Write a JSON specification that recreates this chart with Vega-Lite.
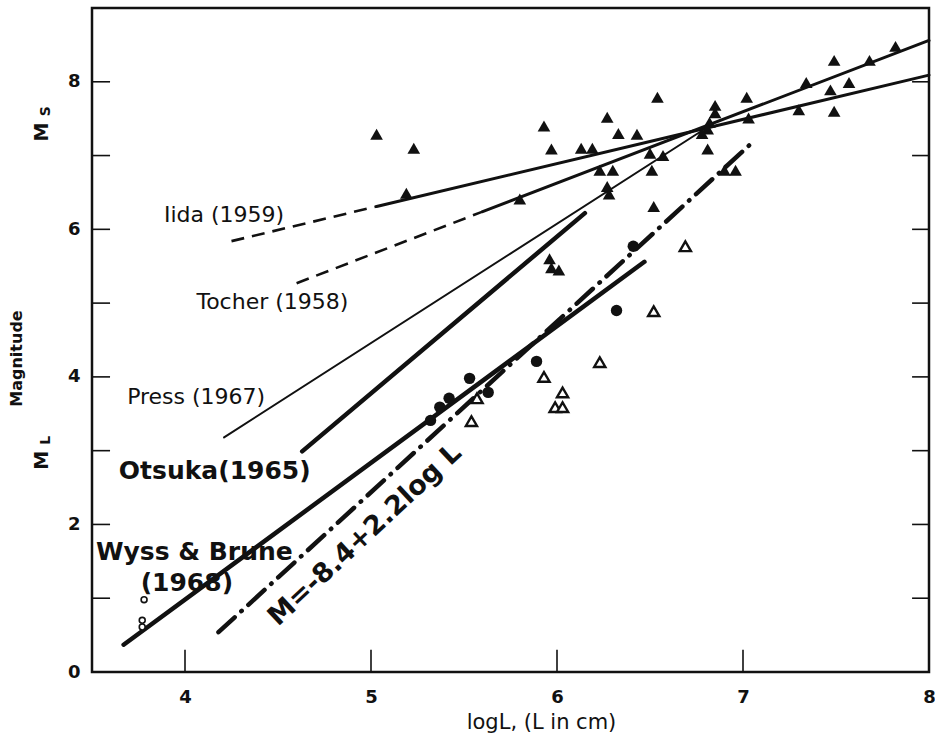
{
  "$schema": "https://vega.github.io/schema/vega-lite/v6.json",
  "width": 837,
  "height": 664,
  "autosize": {"type": "none"},
  "padding": {"left": 92, "top": 8, "right": 6, "bottom": 66},
  "background": "white",
  "config": {
    "view": {"stroke": "#111", "strokeWidth": 2.5},
    "font": "DejaVu Sans",
    "axis": {"grid": false, "domain": false, "tickColor": "#111", "labelColor": "#111", "titleColor": "#111", "labelFont": "DejaVu Sans", "titleFont": "DejaVu Sans"}
  },
  "datasets": {
    "frame_marks": [
      {"side": "bottom", "v": 4}, {"side": "bottom", "v": 5}, {"side": "bottom", "v": 6}, {"side": "bottom", "v": 7},
      {"side": "left", "v": 1}, {"side": "left", "v": 2}, {"side": "left", "v": 3}, {"side": "left", "v": 4},
      {"side": "left", "v": 5}, {"side": "left", "v": 6}, {"side": "left", "v": 7}, {"side": "left", "v": 8},
      {"side": "right", "v": 1}, {"side": "right", "v": 2}, {"side": "right", "v": 3}, {"side": "right", "v": 4},
      {"side": "right", "v": 5}, {"side": "right", "v": 6}, {"side": "right", "v": 7}, {"side": "right", "v": 8}
    ],
    "curves": [
      {"series": "iida_ext", "x": 4.25, "y": 5.84},
      {"series": "iida_ext", "x": 5.03, "y": 6.31},
      {"series": "iida", "x": 5.03, "y": 6.31},
      {"series": "iida", "x": 8.0, "y": 8.09},
      {"series": "tocher_ext", "x": 4.60, "y": 5.27},
      {"series": "tocher_ext", "x": 5.60, "y": 6.24},
      {"series": "tocher", "x": 5.60, "y": 6.24},
      {"series": "tocher", "x": 8.0, "y": 8.56},
      {"series": "press", "x": 4.21, "y": 3.18},
      {"series": "press", "x": 6.80, "y": 7.37},
      {"series": "otsuka", "x": 4.63, "y": 2.99},
      {"series": "otsuka", "x": 6.15, "y": 6.22},
      {"series": "wyss_brune", "x": 3.67, "y": 0.37},
      {"series": "wyss_brune", "x": 6.47, "y": 5.56},
      {"series": "empirical", "x": 4.18, "y": 0.54},
      {"series": "empirical", "x": 7.06, "y": 7.20}
    ],
    "points": [
      {"group": "Ms", "x": 5.03, "y": 7.29},
      {"group": "Ms", "x": 5.23, "y": 7.10},
      {"group": "Ms", "x": 5.19, "y": 6.49},
      {"group": "Ms", "x": 5.80, "y": 6.41},
      {"group": "Ms", "x": 5.93, "y": 7.40},
      {"group": "Ms", "x": 5.97, "y": 7.09},
      {"group": "Ms", "x": 6.13, "y": 7.10},
      {"group": "Ms", "x": 6.19, "y": 7.10},
      {"group": "Ms", "x": 6.27, "y": 7.52},
      {"group": "Ms", "x": 6.33, "y": 7.30},
      {"group": "Ms", "x": 6.43, "y": 7.29},
      {"group": "Ms", "x": 6.54, "y": 7.79},
      {"group": "Ms", "x": 6.23, "y": 6.80},
      {"group": "Ms", "x": 6.30, "y": 6.80},
      {"group": "Ms", "x": 6.50, "y": 7.03},
      {"group": "Ms", "x": 6.57, "y": 7.00},
      {"group": "Ms", "x": 6.51, "y": 6.80},
      {"group": "Ms", "x": 6.27, "y": 6.58},
      {"group": "Ms", "x": 6.28, "y": 6.48},
      {"group": "Ms", "x": 6.52, "y": 6.31},
      {"group": "Ms", "x": 6.81, "y": 7.09},
      {"group": "Ms", "x": 6.90, "y": 6.80},
      {"group": "Ms", "x": 6.96, "y": 6.80},
      {"group": "Ms", "x": 6.85, "y": 7.68},
      {"group": "Ms", "x": 6.85, "y": 7.58},
      {"group": "Ms", "x": 6.82, "y": 7.45},
      {"group": "Ms", "x": 6.81, "y": 7.36},
      {"group": "Ms", "x": 6.78, "y": 7.30},
      {"group": "Ms", "x": 7.02, "y": 7.79},
      {"group": "Ms", "x": 7.03, "y": 7.51},
      {"group": "Ms", "x": 7.30, "y": 7.62},
      {"group": "Ms", "x": 7.34, "y": 7.99},
      {"group": "Ms", "x": 7.49, "y": 8.29},
      {"group": "Ms", "x": 7.47, "y": 7.89},
      {"group": "Ms", "x": 7.57, "y": 7.99},
      {"group": "Ms", "x": 7.49, "y": 7.60},
      {"group": "Ms", "x": 7.68, "y": 8.29},
      {"group": "Ms", "x": 7.82, "y": 8.48},
      {"group": "Ms", "x": 5.96, "y": 5.60},
      {"group": "Ms", "x": 5.97, "y": 5.48},
      {"group": "Ms", "x": 6.01, "y": 5.45},
      {"group": "ML_open_triangle", "x": 6.52, "y": 4.89},
      {"group": "ML_open_triangle", "x": 6.23, "y": 4.20},
      {"group": "ML_open_triangle", "x": 5.93, "y": 4.00},
      {"group": "ML_open_triangle", "x": 6.03, "y": 3.79},
      {"group": "ML_open_triangle", "x": 5.99, "y": 3.59},
      {"group": "ML_open_triangle", "x": 6.03, "y": 3.59},
      {"group": "ML_open_triangle", "x": 5.54, "y": 3.40},
      {"group": "ML_open_triangle", "x": 5.57, "y": 3.71},
      {"group": "ML_open_triangle", "x": 6.69, "y": 5.77},
      {"group": "ML_circle", "x": 6.32, "y": 4.90},
      {"group": "ML_circle", "x": 6.41, "y": 5.77},
      {"group": "ML_circle", "x": 5.89, "y": 4.21},
      {"group": "ML_circle", "x": 5.53, "y": 3.98},
      {"group": "ML_circle", "x": 5.42, "y": 3.71},
      {"group": "ML_circle", "x": 5.37, "y": 3.59},
      {"group": "ML_circle", "x": 5.32, "y": 3.41},
      {"group": "ML_circle", "x": 5.63, "y": 3.79},
      {"group": "ML_open_circle", "x": 3.78, "y": 0.98},
      {"group": "ML_open_circle", "x": 3.77, "y": 0.70},
      {"group": "ML_open_circle", "x": 3.77, "y": 0.61}
    ],
    "labels": [
      {"kind": "plain", "text": "Iida (1959)", "x": 4.21, "y": 6.19},
      {"kind": "plain", "text": "Tocher (1958)", "x": 4.47, "y": 5.01},
      {"kind": "plain", "text": "Press (1967)", "x": 4.06, "y": 3.73},
      {"kind": "bold", "text": "Otsuka(1965)", "x": 4.16, "y": 2.72},
      {"kind": "bold", "text": "Wyss & Brune", "x": 4.05, "y": 1.62},
      {"kind": "bold", "text": "(1968)", "x": 4.01, "y": 1.21},
      {"kind": "formula", "text": "M=-8.4+2.2log L", "x": 4.968, "y": 1.856},
      {"kind": "axis_main", "text": "M", "x": 3.231, "y": 7.32},
      {"kind": "axis_sub", "text": "S", "x": 3.25, "y": 7.60},
      {"kind": "axis_main", "text": "M", "x": 3.231, "y": 2.87},
      {"kind": "axis_sub", "text": "L", "x": 3.25, "y": 3.14}
    ]
  },
  "layer": [
    {
      "data": {"name": "curves"},
      "transform": [{"filter": "datum.series === 'iida_ext' || datum.series === 'tocher_ext'"}],
      "mark": {"type": "line", "color": "#111", "strokeWidth": 2.6, "strokeDash": [13, 8], "strokeCap": "butt"},
      "encoding": {
        "x": {"field": "x", "type": "quantitative", "scale": {"domain": [3.5, 8], "nice": false, "zero": false},
          "axis": {"orient": "bottom", "values": [4, 5, 6, 7, 8], "ticks": false, "labelFontSize": 18, "labelFontWeight": "bold", "labelFlush": false, "labelOverlap": false, "labelPadding": 16, "title": "logL, (L in cm)", "titleFontSize": 21, "titleFontWeight": "normal", "titleX": 449, "titleY": 50, "titleBaseline": "middle", "titleAlign": "center"}},
        "y": {"field": "y", "type": "quantitative", "scale": {"domain": [0, 9], "nice": false, "zero": false},
          "axis": {"orient": "left", "values": [0, 2, 4, 6, 8], "ticks": false, "labelFontSize": 18, "labelFontWeight": "bold", "labelPadding": 12, "labelOverlap": false, "title": "Magnitude", "titleFontSize": 16, "titleFontWeight": "bold", "titleX": -76, "titleY": 350, "titleBaseline": "middle", "titleAlign": "center"}},
        "detail": {"field": "series"},
        "order": {"field": "x", "type": "quantitative"}
      }
    },
    {
      "data": {"name": "frame_marks"},
      "transform": [{"filter": "datum.side === 'bottom'"}],
      "mark": {"type": "rule", "color": "#111", "strokeWidth": 1.6},
      "encoding": {
        "x": {"field": "v", "type": "quantitative", "axis": null},
        "y": {"datum": 0.3, "type": "quantitative", "axis": null},
        "y2": {"datum": 0.01}
      }
    },
    {
      "data": {"name": "frame_marks"},
      "transform": [{"filter": "datum.side === 'left'"}],
      "mark": {"type": "rule", "color": "#111", "strokeWidth": 1.6},
      "encoding": {
        "y": {"field": "v", "type": "quantitative", "axis": null},
        "x": {"datum": 3.5, "type": "quantitative", "axis": null},
        "x2": {"datum": 3.597}
      }
    },
    {
      "data": {"name": "frame_marks"},
      "transform": [{"filter": "datum.side === 'right'"}],
      "mark": {"type": "rule", "color": "#111", "strokeWidth": 1.6},
      "encoding": {
        "y": {"field": "v", "type": "quantitative", "axis": null},
        "x": {"datum": 8, "type": "quantitative", "axis": null},
        "x2": {"datum": 7.909}
      }
    },
    {
      "data": {"name": "curves"},
      "transform": [{"filter": "datum.series === 'iida' || datum.series === 'tocher'"}],
      "mark": {"type": "line", "color": "#111", "strokeWidth": 3, "strokeCap": "round"},
      "encoding": {
        "x": {"field": "x", "type": "quantitative", "axis": null},
        "y": {"field": "y", "type": "quantitative", "axis": null},
        "detail": {"field": "series"}, "order": {"field": "x", "type": "quantitative"}}
    },
    {
      "data": {"name": "curves"},
      "transform": [{"filter": "datum.series === 'press'"}],
      "mark": {"type": "line", "color": "#111", "strokeWidth": 2, "strokeCap": "round"},
      "encoding": {
        "x": {"field": "x", "type": "quantitative", "axis": null},
        "y": {"field": "y", "type": "quantitative", "axis": null},
        "order": {"field": "x", "type": "quantitative"}}
    },
    {
      "data": {"name": "curves"},
      "transform": [{"filter": "datum.series === 'otsuka' || datum.series === 'wyss_brune'"}],
      "mark": {"type": "line", "color": "#111", "strokeWidth": 4.5, "strokeCap": "round"},
      "encoding": {
        "x": {"field": "x", "type": "quantitative", "axis": null},
        "y": {"field": "y", "type": "quantitative", "axis": null},
        "detail": {"field": "series"}, "order": {"field": "x", "type": "quantitative"}}
    },
    {
      "data": {"name": "curves"},
      "transform": [{"filter": "datum.series === 'empirical'"}],
      "mark": {"type": "line", "color": "#111", "strokeWidth": 4.5, "strokeCap": "round", "strokeDash": [22, 9, 0.5, 9]},
      "encoding": {
        "x": {"field": "x", "type": "quantitative", "axis": null},
        "y": {"field": "y", "type": "quantitative", "axis": null},
        "order": {"field": "x", "type": "quantitative"}}
    },
    {
      "data": {"name": "points"},
      "transform": [{"filter": "datum.group === 'Ms'"}],
      "mark": {"type": "point", "shape": "triangle-up", "filled": true, "color": "#111", "size": 160, "opacity": 1},
      "encoding": {
        "x": {"field": "x", "type": "quantitative", "axis": null},
        "y": {"field": "y", "type": "quantitative", "axis": null}}
    },
    {
      "data": {"name": "points"},
      "transform": [{"filter": "datum.group === 'ML_open_triangle'"}],
      "mark": {"type": "point", "shape": "triangle-up", "filled": true, "fill": "white", "stroke": "#111", "strokeWidth": 2.4, "size": 125, "opacity": 1},
      "encoding": {
        "x": {"field": "x", "type": "quantitative", "axis": null},
        "y": {"field": "y", "type": "quantitative", "axis": null}}
    },
    {
      "data": {"name": "points"},
      "transform": [{"filter": "datum.group === 'ML_circle'"}],
      "mark": {"type": "circle", "color": "#111", "size": 130, "opacity": 1},
      "encoding": {
        "x": {"field": "x", "type": "quantitative", "axis": null},
        "y": {"field": "y", "type": "quantitative", "axis": null}}
    },
    {
      "data": {"name": "points"},
      "transform": [{"filter": "datum.group === 'ML_open_circle'"}],
      "mark": {"type": "point", "shape": "circle", "filled": true, "fill": "white", "stroke": "#111", "strokeWidth": 1.6, "size": 35, "opacity": 1},
      "encoding": {
        "x": {"field": "x", "type": "quantitative", "axis": null},
        "y": {"field": "y", "type": "quantitative", "axis": null}}
    },
    {
      "data": {"name": "labels"},
      "transform": [{"filter": "datum.kind === 'plain'"}],
      "mark": {"type": "text", "font": "DejaVu Sans", "fontSize": 22, "color": "#111", "align": "center", "baseline": "middle"},
      "encoding": {
        "x": {"field": "x", "type": "quantitative", "axis": null},
        "y": {"field": "y", "type": "quantitative", "axis": null},
        "text": {"field": "text"}}
    },
    {
      "data": {"name": "labels"},
      "transform": [{"filter": "datum.kind === 'bold'"}],
      "mark": {"type": "text", "font": "DejaVu Sans", "fontSize": 25, "fontWeight": "bold", "color": "#111", "align": "center", "baseline": "middle"},
      "encoding": {
        "x": {"field": "x", "type": "quantitative", "axis": null},
        "y": {"field": "y", "type": "quantitative", "axis": null},
        "text": {"field": "text"}}
    },
    {
      "data": {"name": "labels"},
      "transform": [{"filter": "datum.kind === 'formula'"}],
      "mark": {"type": "text", "font": "DejaVu Sans", "fontSize": 27, "fontWeight": "bold", "color": "#111", "align": "center", "baseline": "middle", "angle": -43},
      "encoding": {
        "x": {"field": "x", "type": "quantitative", "axis": null},
        "y": {"field": "y", "type": "quantitative", "axis": null},
        "text": {"field": "text"}}
    },
    {
      "data": {"name": "labels"},
      "transform": [{"filter": "datum.kind === 'axis_main'"}],
      "mark": {"type": "text", "font": "DejaVu Sans", "fontSize": 19, "fontWeight": "bold", "color": "#111", "align": "center", "baseline": "middle", "angle": -90},
      "encoding": {
        "x": {"field": "x", "type": "quantitative", "axis": null},
        "y": {"field": "y", "type": "quantitative", "axis": null},
        "text": {"field": "text"}}
    },
    {
      "data": {"name": "labels"},
      "transform": [{"filter": "datum.kind === 'axis_sub'"}],
      "mark": {"type": "text", "font": "DejaVu Sans", "fontSize": 14, "fontWeight": "bold", "color": "#111", "align": "center", "baseline": "middle", "angle": -90},
      "encoding": {
        "x": {"field": "x", "type": "quantitative", "axis": null},
        "y": {"field": "y", "type": "quantitative", "axis": null},
        "text": {"field": "text"}}
    }
  ],
  "resolve": {"axis": {"x": "independent", "y": "independent"}}
}
